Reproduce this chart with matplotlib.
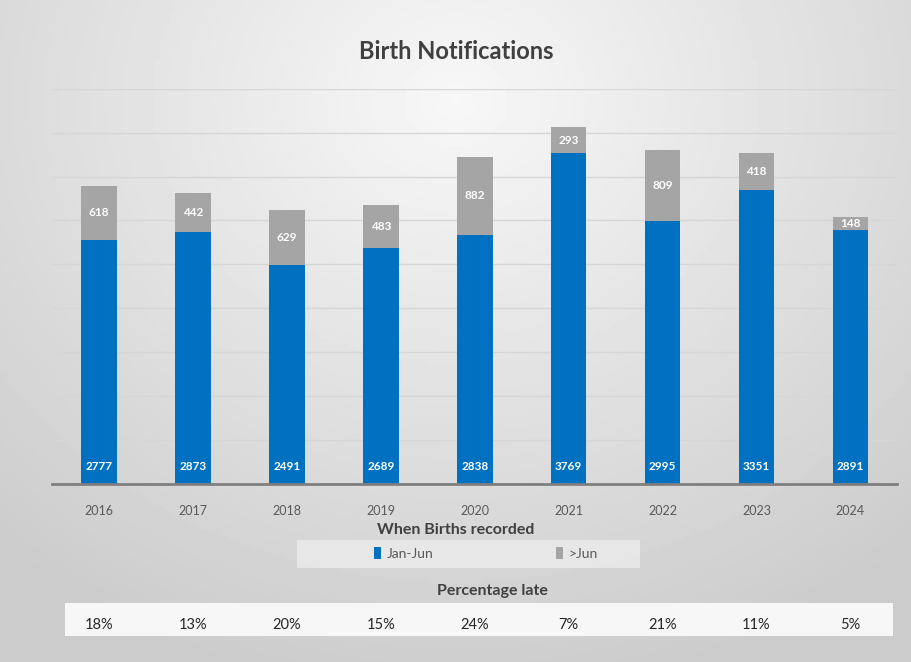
import numpy as np
import matplotlib
matplotlib.use("Agg")
import matplotlib.pyplot as plt
from matplotlib.patches import Rectangle

plt.rcParams['font.family'] = ['Lato', 'DejaVu Sans']

years = ['2016', '2017', '2018', '2019', '2020', '2021', '2022', '2023', '2024']
jan_jun = [2777, 2873, 2491, 2689, 2838, 3769, 2995, 3351, 2891]
after_jun = [618, 442, 629, 483, 882, 293, 809, 418, 148]
pct_late = ['18%', '13%', '20%', '15%', '24%', '7%', '21%', '11%', '5%']

blue = '#0070C0'
grey = '#A5A5A5'
txt = '#404040'

fig = plt.figure(figsize=(9.12, 6.62), dpi=100)

# gradient background
bg = fig.add_axes([0, 0, 1, 1])
yy, xx = np.mgrid[0:1:200j, 0:1:200j]
r = np.sqrt(((xx - 0.5) / 0.75) ** 2 + ((yy - 0.15) / 0.9) ** 2)
bg.imshow(0.97 - 0.17 * np.clip(r, 0, 1), cmap='gray', vmin=0, vmax=1,
          extent=[0, 1, 0, 1], aspect='auto', origin='upper')
bg.set_xlim(0, 1)
bg.set_ylim(0, 1)
bg.axis('off')

ax = fig.add_axes([0.057, 0.269, 0.927, 0.597])
ax.patch.set_alpha(0)
x = np.arange(len(years))
w = 0.38
b1 = ax.bar(x, jan_jun, w, color=blue, label='Jan-Jun', zorder=3)
b2 = ax.bar(x, after_jun, w, bottom=jan_jun, color=grey, label='>Jun', zorder=3)

for i in range(len(years)):
    ax.text(x[i], 200, str(jan_jun[i]), ha='center', va='center', color='white',
            fontsize=8.5, fontweight='bold', zorder=4)
    ax.text(x[i], jan_jun[i] + after_jun[i] / 2, str(after_jun[i]), ha='center',
            va='center', color='white', fontsize=8.5, fontweight='bold', zorder=4)

ax.set_xlim(-0.5, len(years) - 0.5)
ax.set_ylim(0, 4500)
ax.set_yticks(np.arange(0, 4501, 500))
ax.set_yticklabels([])
ax.tick_params(axis='y', length=0)
ax.yaxis.grid(True, color='#d6d6d6', linewidth=1, zorder=0)
ax.set_xticks(x)
ax.set_xticklabels(years, color='#595959', fontsize=9)
ax.tick_params(axis='x', length=0, pad=15)
for s in ['top', 'right', 'left']:
    ax.spines[s].set_visible(False)
ax.spines['bottom'].set_color('#7f7f7f')
ax.spines['bottom'].set_linewidth(2)
ax.spines['bottom'].set_zorder(5)

fig.text(0.5, 0.922, 'Birth Notifications', ha='center', va='center',
         fontsize=17, fontweight='bold', color=txt)
fig.text(0.5, 0.199, 'When Births recorded', ha='center', va='center',
         fontsize=11.5, fontweight='bold', color=txt)

# legend box
bg.add_patch(Rectangle((297 / 912, 1 - 568 / 662), 343 / 912, 28 / 662,
                       facecolor='#ececec', edgecolor='none', alpha=0.8))
leg = fig.legend(handles=[b1, b2], loc='center', bbox_to_anchor=(0.533, 0.164),
                 ncol=2, frameon=False, fontsize=10, handlelength=0.5,
                 handleheight=0.9, columnspacing=8.8, handletextpad=0.4)
for t in leg.get_texts():
    t.set_color('#595959')

fig.text(0.54, 0.107, 'Percentage late', ha='center', va='center',
         fontsize=11.5, fontweight='bold', color=txt)

# percentage band
bg.add_patch(Rectangle((65 / 912, 1 - 636 / 662), 828 / 912, 33 / 662,
                       facecolor='#f7f7f7', edgecolor='none'))
for i, p in enumerate(pct_late):
    xf = ax.transData.transform((x[i], 0))
    xf = fig.transFigure.inverted().transform(xf)[0]
    fig.text(xf, 1 - 625 / 662, p, ha='center', va='center', fontsize=10.5,
             color='#262626')

fig.savefig('out.png', dpi=100)
